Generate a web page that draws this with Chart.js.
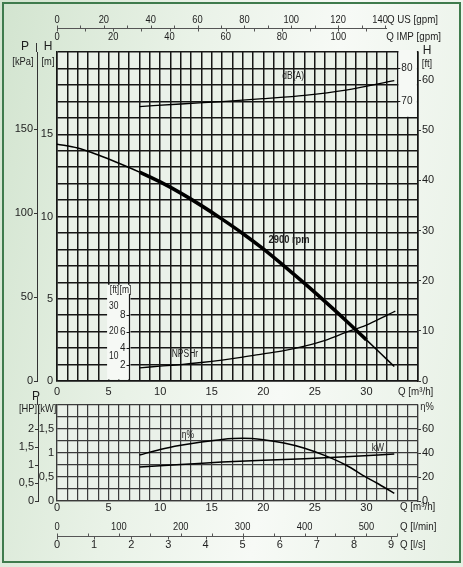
<!DOCTYPE html>
<html>
<head>
<meta charset="utf-8">
<script src="https://cdn.jsdelivr.net/npm/chart.js@4.4.1/dist/chart.umd.min.js"></script>
<style>
html, body { margin: 0; padding: 0; background: #fff; }
#frame { position: absolute; left: 0; top: 0; width: 463px; height: 567px; overflow: hidden;
  background: linear-gradient(100deg, #d2e4cf 0%, #e9f2e7 35%, #f7faf6 62%, #e6f0e4 100%); }
#border { position: absolute; left: 2px; top: 2px; width: 455px; height: 557px; border: 2px solid #3f7b4d; }
#upper { position: absolute; left: 0; top: 0; }
#lower { position: absolute; left: 0; top: 385px; }
</style>
</head>
<body>
<div id="frame">
  <div id="border"></div>
  <canvas id="upper" width="463" height="400"></canvas>
  <canvas id="lower" width="463" height="182"></canvas>
</div>
<script>
// tick labels
var qTicks = [0, 5, 10, 15, 20, 25, 30];
var hTicks = [0, 5, 10, 15];
var kpaTicks = [0, 50, 100, 150];
var ftTicks = [0, 10, 20, 30, 40, 50, 60];
var dbTicks = [70, 80];
var npshMTicks = [2, 4, 6, 8];
var npshFtTicks = [10, 20, 30];
var usGpmTicks = [0, 20, 40, 60, 80, 100, 120, 140];
var impGpmTicks = [0, 20, 40, 60, 80, 100];
var lminTicks = [0, 100, 200, 300, 400, 500];
var lsTicks = [0, 1, 2, 3, 4, 5, 6, 7, 8, 9];
var hpTicks = [0, 0.5, 1, 1.5, 2];
var kwTicks = [0, 0.5, 1, 1.5];
var etaTicks = [0, 20, 40, 60];

// curves (Q in m3/h)
var headFlow = [0, 2, 4, 6, 8, 10, 12, 14, 16, 18, 20, 22, 24, 26, 28, 30, 32, 32.7];
var headM = [14.4, 14.16, 13.74, 13.24, 12.7, 12.1, 11.42, 10.66, 9.84, 8.97, 8.03, 7.0, 5.93, 4.82, 3.68, 2.5, 1.3, 0.88];
var npshFlow = [8, 10, 12, 14, 16, 18, 20, 22, 24, 26, 28, 30, 32, 32.8];
var npshM = [1.6, 1.8, 2.0, 2.25, 2.55, 2.9, 3.3, 3.7, 4.25, 4.95, 5.9, 6.8, 8.0, 8.5];
var dbFlow = [8, 12, 16, 20, 24, 28, 32.7];
var dbA = [68.4, 69.2, 69.9, 70.8, 71.8, 73.4, 76.3];
var etaFlow = [8, 10, 12, 14, 16, 18, 20, 22, 24, 26, 28, 30, 31, 32, 32.7];
var etaPct = [38.3, 43, 46.5, 49.2, 51.3, 52.2, 51, 48.3, 44, 37.8, 30, 19.7, 15, 10, 6.4];
var kwFlow = [8, 12, 16, 20, 24, 28, 32.7];
var kwPower = [0.71, 0.76, 0.81, 0.85, 0.88, 0.92, 0.98];

// duty range drawn bold
var dutyFrom = 8;
var dutyTo = 30;

// unit factors
var KPA_PER_M = 9.80665;
var FT_PER_M = 3.28084;
var USGPM_PER_M3H = 4.40287;
var IMPGPM_PER_M3H = 3.66615;
var LMIN_PER_M3H = 16.6667;
var LS_PER_M3H = 1 / 3.6;
var KW_PER_HP = 0.7457;

var FONT = '"Liberation Sans", Arial, sans-serif';
var gridCol = '#161616';
var lowGridCol = '#3a3a3a';
var axisGrey = '#555';
var textCol = '#1e1e1e';
var plotFill = '#eaf1e9';
var panelFill = '#f6f9f5';
var NARROW = 0.85;   // the original lettering is a narrow face

Chart.defaults.font.family = FONT;
Chart.defaults.font.size = 11;
Chart.defaults.color = textCol;

function pts(xs, ys) {
    return xs.map(function(x, i) { return {x: x, y: ys[i]}; });
}
function has(list, v) {
    return list.some(function(t) { return Math.abs(t - v) < 1e-6; });
}
function fixed(list) {
    return function(scale) { scale.ticks = list.map(function(v) { return {value: v}; }); };
}
function comma(v) { return String(v).replace('.', ','); }

function txt(ctx, s, x, y, align, font, sx) {
    ctx.save();
    ctx.font = font || ('11px ' + FONT);
    ctx.textAlign = align || 'center';
    ctx.textBaseline = 'middle';
    ctx.fillStyle = textCol;
    ctx.translate(x, y);
    ctx.scale(sx || 1, 1);
    ctx.fillText(s, 0, 0);
    ctx.restore();
}
function seg(ctx, x1, y1, x2, y2) {
    ctx.beginPath();
    ctx.moveTo(x1, y1);
    ctx.lineTo(x2, y2);
    ctx.stroke();
}

var upperDecor = {
    id: 'upperDecor',
    beforeDraw: function(chart) {
        var a = chart.chartArea, ctx = chart.ctx;
        ctx.save();
        ctx.fillStyle = plotFill;
        ctx.fillRect(a.left, a.top, a.right - a.left, a.bottom - a.top);
        ctx.restore();
    },
    beforeDatasetsDraw: function(chart) {
        var a = chart.chartArea, ctx = chart.ctx, s = chart.scales;
        ctx.save();
        // NPSH sub axis panel
        var x5 = s.x.getPixelForValue(5), x7 = Math.round(s.x.getPixelForValue(7)) + 0.5;
        var pTop = s.yN.getPixelForValue(11.7);
        ctx.fillStyle = panelFill;
        ctx.fillRect(x5 - 1.5, pTop, x7 - x5 + 2.5, a.bottom - 1.5 - pTop);
        ctx.strokeStyle = gridCol;
        ctx.lineWidth = 1.2;
        seg(ctx, x7, s.yN.getPixelForValue(10.6), x7, a.bottom);
        ctx.lineWidth = 1;
        var f10 = '10px ' + FONT;
        npshMTicks.forEach(function(m) {
            var y = Math.round(s.yN.getPixelForValue(m)) + 0.5;
            seg(ctx, x7 - 3, y, x7, y);
            txt(ctx, String(m), x7 - 4, y, 'right', f10);
        });
        npshFtTicks.forEach(function(ft) {
            var y = s.yN.getPixelForValue(ft / FT_PER_M);
            txt(ctx, String(ft), x7 - 11, y, 'right', f10, NARROW);
        });
        txt(ctx, '[ft]', x7 - 15, pTop + 5, 'center', f10, NARROW);
        txt(ctx, '[m]', x7 - 4, pTop + 5, 'center', f10, NARROW);

        // dB(A) sub axis panel
        var x33 = s.x.getPixelForValue(33), x35 = s.x.getPixelForValue(35);
        var y16 = s.y.getPixelForValue(16);
        ctx.fillStyle = panelFill;
        ctx.fillRect(x33 + 1.1, a.top - 2, x35 - x33 - 2.2, y16 - a.top + 1);
        dbTicks.forEach(function(d) {
            var y = Math.round(s.yDb.getPixelForValue(d)) + 0.5;
            seg(ctx, x33, y, x33 + 3, y);
            txt(ctx, String(d), x33 + 4, y, 'left', f10);
        });
        ctx.restore();
    },
    afterDatasetsDraw: function(chart) {
        var ctx = chart.ctx, s = chart.scales;
        txt(ctx, '2900 rpm', s.x.getPixelForValue(22.5), s.y.getPixelForValue(8.55), 'center', 'bold 11px ' + FONT, NARROW);
        txt(ctx, 'NPSHr', s.x.getPixelForValue(12.4), s.yN.getPixelForValue(3.3), 'center', '10px ' + FONT, NARROW);
        txt(ctx, 'dB(A)', s.x.getPixelForValue(22.9), s.y.getPixelForValue(18.5), 'center', '10px ' + FONT, NARROW);
    },
    afterDraw: function(chart) {
        var a = chart.chartArea, ctx = chart.ctx, s = chart.scales;
        ctx.save();
        // kPa axis line runs up between the titles
        var xb = Math.round(s.yP.right) - 0.5;
        ctx.strokeStyle = '#333';
        ctx.lineWidth = 1;
        seg(ctx, xb, a.top, xb, a.top - 9);
        txt(ctx, 'P', 25, 47, 'center', '12px ' + FONT);
        txt(ctx, '[kPa]', 23, 62, 'center', null, NARROW);
        txt(ctx, 'H', 48, 47, 'center', '12px ' + FONT);
        txt(ctx, '[m]', 48, 62, 'center', null, NARROW);
        txt(ctx, 'H', 427, 51, 'center', '12px ' + FONT);
        txt(ctx, '[ft]', 427, 64, 'center', null, NARROW);
        txt(ctx, 'Q [m\u00b3/h]', 398, 392, 'left', '11.5px ' + FONT, NARROW);

        // gpm axes (US above, IMP below the line)
        var yl = 28.5;
        ctx.strokeStyle = axisGrey;
        seg(ctx, s.x.getPixelForValue(0), yl, s.x.getPixelForValue(32), yl);
        var g;
        for (g = 0; g <= 140; g += 10) {
            var xu = Math.round(s.x.getPixelForValue(g / USGPM_PER_M3H)) + 0.5;
            seg(ctx, xu, yl, xu, yl - 3);
        }
        for (g = 0; g <= 110; g += 10) {
            var xi = Math.round(s.x.getPixelForValue(g / IMPGPM_PER_M3H)) + 0.5;
            seg(ctx, xi, yl, xi, yl + 3);
        }
        usGpmTicks.forEach(function(v, i) {
            var xv = s.x.getPixelForValue(v / USGPM_PER_M3H);
            if (i === usGpmTicks.length - 1) {
                txt(ctx, String(v), xv + 3, 20, 'right', null, NARROW);
            } else {
                txt(ctx, String(v), xv, 20, 'center', null, NARROW);
            }
        });
        impGpmTicks.forEach(function(v) {
            txt(ctx, String(v), s.x.getPixelForValue(v / IMPGPM_PER_M3H), 37, 'center', null, NARROW);
        });
        txt(ctx, 'Q US [gpm]', 438, 20, 'right', '11.5px ' + FONT, NARROW);
        txt(ctx, 'Q IMP [gpm]', 441, 37, 'right', '11.5px ' + FONT, NARROW);
        ctx.restore();
    }
};

var lowerDecor = {
    id: 'lowerDecor',
    beforeDraw: upperDecor.beforeDraw,
    afterDraw: function(chart) {
        var a = chart.chartArea, ctx = chart.ctx, s = chart.scales;
        ctx.save();
        var xb = Math.round(s.yHp.right) - 0.5;
        ctx.strokeStyle = '#333';
        ctx.lineWidth = 1;
        seg(ctx, xb, a.top, xb, a.top - 8);
        txt(ctx, 'P', 36, 12, 'center', '12px ' + FONT);
        txt(ctx, '[HP]', 28, 24, 'center', null, NARROW);
        txt(ctx, '[kW]', 47, 24, 'center', null, NARROW);
        txt(ctx, '\u03b7%', 427, 22, 'center', null, NARROW);
        txt(ctx, 'Q [m\u00b3/h]', 400, 122, 'left', '11.5px ' + FONT, NARROW);
        txt(ctx, '\u03b7%', s.x.getPixelForValue(12.7), s.yEta.getPixelForValue(55), 'center', '10px ' + FONT, NARROW);
        txt(ctx, 'kW', s.x.getPixelForValue(31.1), s.yKw.getPixelForValue(1.1), 'center', '10px ' + FONT, NARROW);

        // l/min above, l/s below the line
        var yl = 151.5;
        ctx.strokeStyle = axisGrey;
        seg(ctx, s.x.getPixelForValue(0), yl, s.x.getPixelForValue(33), yl);
        var v;
        for (v = 0; v <= 550; v += 50) {
            var xm = Math.round(s.x.getPixelForValue(v / LMIN_PER_M3H)) + 0.5;
            seg(ctx, xm, yl, xm, yl - 3);
        }
        for (v = 0; v <= 9; v += 1) {
            var xs = Math.round(s.x.getPixelForValue(v / LS_PER_M3H)) + 0.5;
            seg(ctx, xs, yl, xs, yl + 3);
        }
        lminTicks.forEach(function(t) {
            txt(ctx, String(t), s.x.getPixelForValue(t / LMIN_PER_M3H), 142, 'center', null, NARROW);
        });
        lsTicks.forEach(function(t) {
            txt(ctx, String(t), s.x.getPixelForValue(t / LS_PER_M3H), 160);
        });
        txt(ctx, 'Q [l/min]', 400, 142, 'left', '11.5px ' + FONT, NARROW);
        txt(ctx, 'Q [l/s]', 400, 160, 'left', '11.5px ' + FONT, NARROW);
        ctx.restore();
    }
};

function qAxis(pad, col, lw) {
    return {
        type: 'linear', position: 'bottom', min: 0, max: 35,
        ticks: { stepSize: 1, autoSkip: false, maxRotation: 0, padding: pad,
            callback: function(v) { return has(qTicks, v) ? String(v) : ''; } },
        grid: { color: col, lineWidth: lw, drawTicks: false },
        border: { color: col, width: lw },
        afterFit: function(sc) { sc.height = 15; }
    };
}

var upperChart = new Chart(document.getElementById('upper'), {
    type: 'line',
    data: {
        datasets: [{
            data: pts(headFlow, headM), yAxisID: 'y',
            borderColor: '#000', borderWidth: 1.5, pointRadius: 0,
            cubicInterpolationMode: 'monotone',
            segment: {
                borderWidth: function(c) {
                    return (c.p0.parsed.x >= dutyFrom && c.p1.parsed.x <= dutyTo) ? 3.6 : 1.5;
                }
            }
        }, {
            data: pts(npshFlow, npshM), yAxisID: 'yN',
            borderColor: '#000', borderWidth: 1.3, pointRadius: 0,
            cubicInterpolationMode: 'monotone'
        }, {
            data: pts(dbFlow, dbA), yAxisID: 'yDb',
            borderColor: '#000', borderWidth: 1.3, pointRadius: 0,
            cubicInterpolationMode: 'monotone'
        }]
    },
    options: {
        responsive: false, animation: false, events: [],
        layout: { padding: { left: 4, right: 5, top: 52, bottom: 4 } },
        plugins: { legend: { display: false }, tooltip: { enabled: false } },
        scales: {
            x: qAxis(4, gridCol, 1.5),
            y: {
                position: 'left', weight: 0, min: 0, max: 20,
                ticks: { stepSize: 1, autoSkip: false, padding: 4,
                    callback: function(v) { return has(hTicks, v) ? String(v) : ''; } },
                grid: { color: gridCol, lineWidth: 1.5, drawTicks: false },
                border: { color: gridCol, width: 1.5 },
                afterFit: function(sc) { sc.width = 20; }
            },
            yP: {
                position: 'left', weight: 1, min: 0, max: 20 * KPA_PER_M,
                afterBuildTicks: fixed(kpaTicks),
                ticks: { padding: 1 },
                grid: { drawOnChartArea: false, tickLength: 3, color: '#333' },
                border: { color: '#333' },
                afterFit: function(sc) { sc.width = 33; }
            },
            yFt: {
                position: 'right', min: 0, max: 20 * FT_PER_M,
                afterBuildTicks: fixed(ftTicks),
                ticks: { padding: 1 },
                grid: { drawOnChartArea: false, tickLength: 3, color: '#333' },
                border: { color: gridCol, width: 1.5 },
                afterFit: function(sc) { sc.width = 40; }
            },
            yN: { display: false, min: 0, max: 40 },
            yDb: { display: false, min: -15, max: 85 }
        }
    },
    plugins: [upperDecor]
});

var lowerChart = new Chart(document.getElementById('lower'), {
    type: 'line',
    data: {
        datasets: [{
            data: pts(etaFlow, etaPct), yAxisID: 'yEta',
            borderColor: '#000', borderWidth: 1.5, pointRadius: 0,
            cubicInterpolationMode: 'monotone'
        }, {
            data: pts(kwFlow, kwPower), yAxisID: 'yKw',
            borderColor: '#000', borderWidth: 1.5, pointRadius: 0,
            cubicInterpolationMode: 'monotone'
        }]
    },
    options: {
        responsive: false, animation: false, events: [],
        layout: { padding: { left: 4, right: 5, top: 20, bottom: 51 } },
        plugins: { legend: { display: false }, tooltip: { enabled: false } },
        scales: {
            x: qAxis(0, lowGridCol, 1.2),
            yKw: {
                position: 'left', weight: 0, min: 0, max: 2,
                ticks: { stepSize: 0.25, autoSkip: false, padding: 3,
                    callback: function(v) { return has(kwTicks, v) ? comma(v) : ''; } },
                grid: { color: lowGridCol, lineWidth: 1.2, drawTicks: false },
                border: { color: lowGridCol, width: 1.2 },
                afterFit: function(sc) { sc.width = 19; }
            },
            yHp: {
                position: 'left', weight: 1, min: 0, max: 2 / KW_PER_HP,
                afterBuildTicks: fixed(hpTicks),
                ticks: { padding: 1, callback: function(v) { return comma(v); } },
                grid: { drawOnChartArea: false, tickLength: 3, color: '#333' },
                border: { color: '#333' },
                afterFit: function(sc) { sc.width = 34; }
            },
            yEta: {
                position: 'right', min: 0, max: 80,
                afterBuildTicks: fixed(etaTicks),
                ticks: { padding: 1 },
                grid: { drawOnChartArea: false, tickLength: 3, color: '#333' },
                border: { color: lowGridCol, width: 1.2 },
                afterFit: function(sc) { sc.width = 40; }
            }
        }
    },
    plugins: [lowerDecor]
});
</script>
</body>
</html>
